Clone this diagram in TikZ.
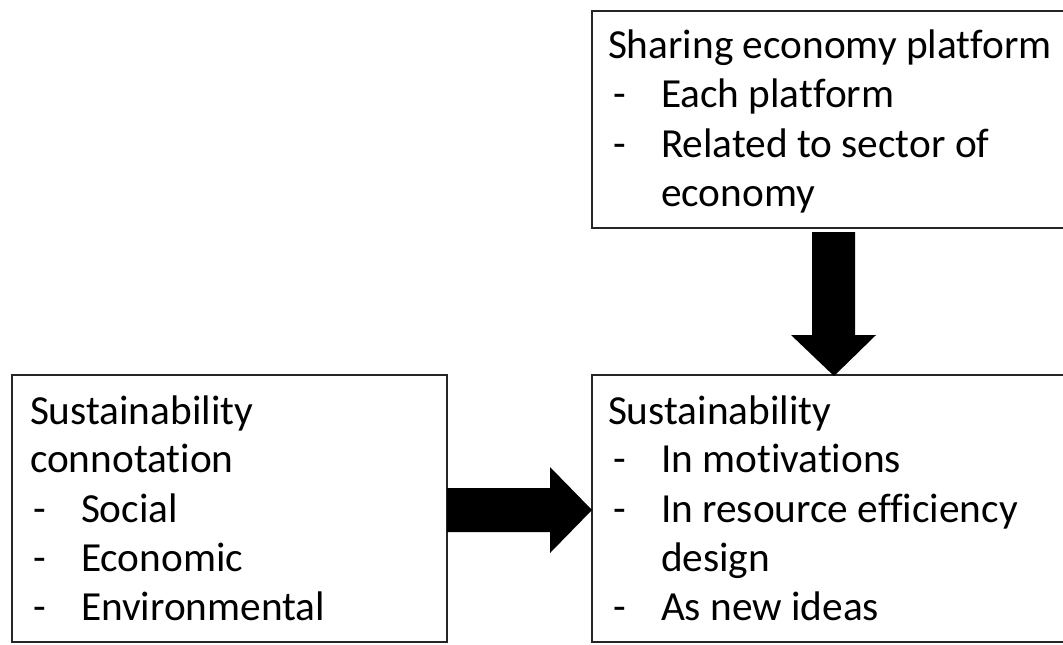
\documentclass[tikz,border=0pt]{standalone}
\usepackage{fontspec}
\setmainfont{Carlito}[RawFeature={-liga;-clig;-dlig}]
\usetikzlibrary{calc}
\begin{document}
\begin{tikzpicture}[x=0.75pt,y=-0.75pt,
  boxst/.style={draw=black!85,line width=1pt,inner sep=0pt,outer sep=0pt},
  txt/.style={anchor=base west,inner sep=0pt,outer sep=0pt,font=\fontsize{31}{37}\selectfont},
  arr/.style={fill=black,draw=none}]
\useasboundingbox (0,0) rectangle (1063,644);
\clip (0,0) rectangle (1063,644);
% boxes
\node[boxst,minimum width=474*0.75pt,minimum height=217*0.75pt,anchor=north west] (top) at (592,11) {};
\node[boxst,minimum width=435*0.75pt,minimum height=267*0.75pt,anchor=north west] (left) at (12,375) {};
\node[boxst,minimum width=474*0.75pt,minimum height=267*0.75pt,anchor=north west] (right) at (592,375) {};
% top box text
\node[txt] (t1) at (608,58) {Sharing economy platform};
\node[txt] (t2d) at (613,107.5) {-};
\node[txt] (t2) at (661,107.5) {Each platform};
\node[txt] (t3d) at (613,157) {-};
\node[txt] (t3) at (661,157) {Related to sector of};
\node[txt] (t4) at (661,206) {economy};
% left box text
\node[txt] (l1) at (30,424) {Sustainability};
\node[txt] (l2) at (30,472.5) {connotation};
\node[txt] (l3d) at (33,522) {-};
\node[txt] (l3) at (81,522) {Social};
\node[txt] (l4d) at (33,571) {-};
\node[txt] (l4) at (81,571) {Economic};
\node[txt] (l5d) at (33,620) {-};
\node[txt] (l5) at (81,620) {Environmental};
% right box text
\node[txt] (r1) at (608,424) {Sustainability};
\node[txt] (r2d) at (613,472.5) {-};
\node[txt] (r2) at (661,472.5) {In motivations};
\node[txt] (r3d) at (613,522) {-};
\node[txt] (r3) at (661,522) {In resource efficiency};
\node[txt] (r4) at (661,571) {design};
\node[txt] (r5d) at (613,620) {-};
\node[txt] (r5) at (661,620) {As new ideas};
% down arrow
\coordinate (dtip) at (834,376);
\fill[arr] (812,232) -- (855,232) -- (855,335) -- (876,335) -- (dtip) -- (791,335) -- (812,335) -- cycle;
% right arrow
\coordinate (rtip) at (right.west |- 0,510);
\fill[arr] (left.east |- 0,488) -- (550,488) -- (550,467) -- (rtip) -- (550,553) -- (550,532) -- (left.east |- 0,532) -- cycle;
\end{tikzpicture}
\end{document}
